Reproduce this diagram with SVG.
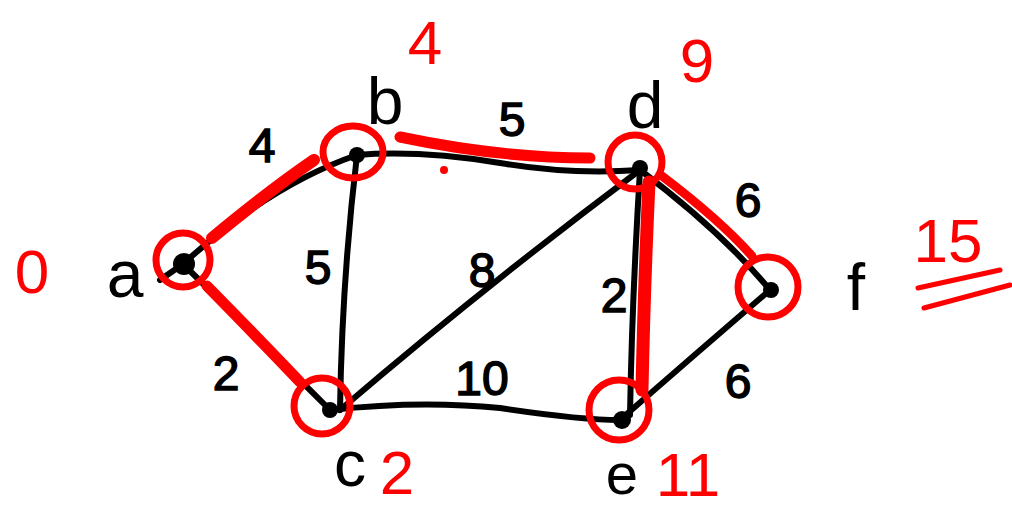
<svg xmlns="http://www.w3.org/2000/svg" width="1012" height="512" viewBox="0 0 1012 512">
<style>
.e{fill:none;stroke:#000;stroke-width:6;stroke-linecap:round;stroke-linejoin:round}
.h{fill:none;stroke:#f00;stroke-linecap:round;stroke-linejoin:round}
.ring{fill:none;stroke:#f00;stroke-width:7}
.dot{fill:#000}
.lb{font-family:"Liberation Sans",Arial,sans-serif;fill:#000;text-anchor:middle}
.w{font-family:"Liberation Sans",Arial,sans-serif;fill:#000;text-anchor:middle;font-size:48px;stroke:#000;stroke-width:1.5}
.r{font-family:"Liberation Sans",Arial,sans-serif;fill:#f00;text-anchor:middle;font-size:62px}
</style>
<rect width="1012" height="512" fill="#fff"/>
<g id="connectors">
<path class="e" d="M183 264 Q270 185 357 155"/>
<path class="e" d="M183 264 Q250 330 330 410"/>
<path class="e" d="M357 155 Q342 280 340 410"/>
<path class="e" d="M357 155 Q420 150 500 163 Q570 175 640 170"/>
<path class="e" d="M340 410 Q480 290 640 170"/>
<path class="e" d="M330 410 Q420 400 500 408 Q580 420 620 420"/>
<path class="e" d="M640 170 Q632 300 630 415"/>
<path class="e" d="M640 170 Q720 230 770 290"/>
<path class="e" d="M620 420 Q700 350 770 290"/>
<path class="e" d="M160 280 L183 264"/>
<path class="h" stroke-width="12" d="M212 238 Q270 190 314 160"/>
<path class="h" stroke-width="11" d="M207 286 Q260 340 300 382"/>
<path class="h" stroke-width="11" d="M400 137 Q500 158 590 158"/>
<path class="h" stroke-width="13" d="M649 182 Q644 290 642 390"/>
<path class="h" stroke-width="9" d="M662 176 Q720 220 752 256"/>
<circle cx="444" cy="170" r="4" fill="#f00"/>
<text class="w" x="262" y="162">4</text>
<text class="w" x="512" y="136">5</text>
<text class="w" x="318" y="284">5</text>
<text class="w" x="482" y="287">8</text>
<text class="w" x="226" y="390">2</text>
<text class="w" x="482" y="395">10</text>
<text class="w" x="614" y="312">2</text>
<text class="w" x="748" y="217">6</text>
<text class="w" x="738" y="398">6</text>
</g>
<g id="node-a">
<circle class="dot" cx="184" cy="264" r="11"/>
<circle class="ring" cx="183" cy="260" r="27"/>
<text class="lb" x="125" y="297" font-size="66">a</text>
<text class="r" x="32" y="293">0</text>
</g>
<g id="node-b">
<circle class="dot" cx="357" cy="155" r="8"/>
<ellipse class="ring" cx="353" cy="152" rx="30" ry="26"/>
<text class="lb" x="385" y="124" font-size="66">b</text>
<text class="r" x="425" y="64">4</text>
</g>
<g id="node-c">
<circle class="dot" cx="330" cy="410" r="8"/>
<circle class="ring" cx="322" cy="406" r="28"/>
<text class="lb" x="350" y="486" font-size="64">c</text>
<text class="r" x="397" y="494">2</text>
</g>
<g id="node-d">
<circle class="dot" cx="640" cy="168" r="8"/>
<circle class="ring" cx="635" cy="162" r="27"/>
<text class="lb" x="645" y="128" font-size="66">d</text>
<text class="r" x="697" y="82">9</text>
</g>
<g id="node-e">
<circle class="dot" cx="622" cy="420" r="9"/>
<circle class="ring" cx="619" cy="410" r="30"/>
<text class="lb" x="622" y="494" font-size="58">e</text>
<text class="r" x="688" y="496" font-size="58">11</text>
</g>
<g id="node-f">
<circle class="dot" cx="771" cy="290" r="8"/>
<circle class="ring" cx="768" cy="287" r="30"/>
<text class="lb" x="856" y="310" font-size="66">f</text>
<text class="r" x="948" y="262">15</text>
<path class="h" stroke-width="5" d="M918 288 L1000 270"/>
<path class="h" stroke-width="5" d="M924 308 L1010 285"/>
</g>
</svg>
